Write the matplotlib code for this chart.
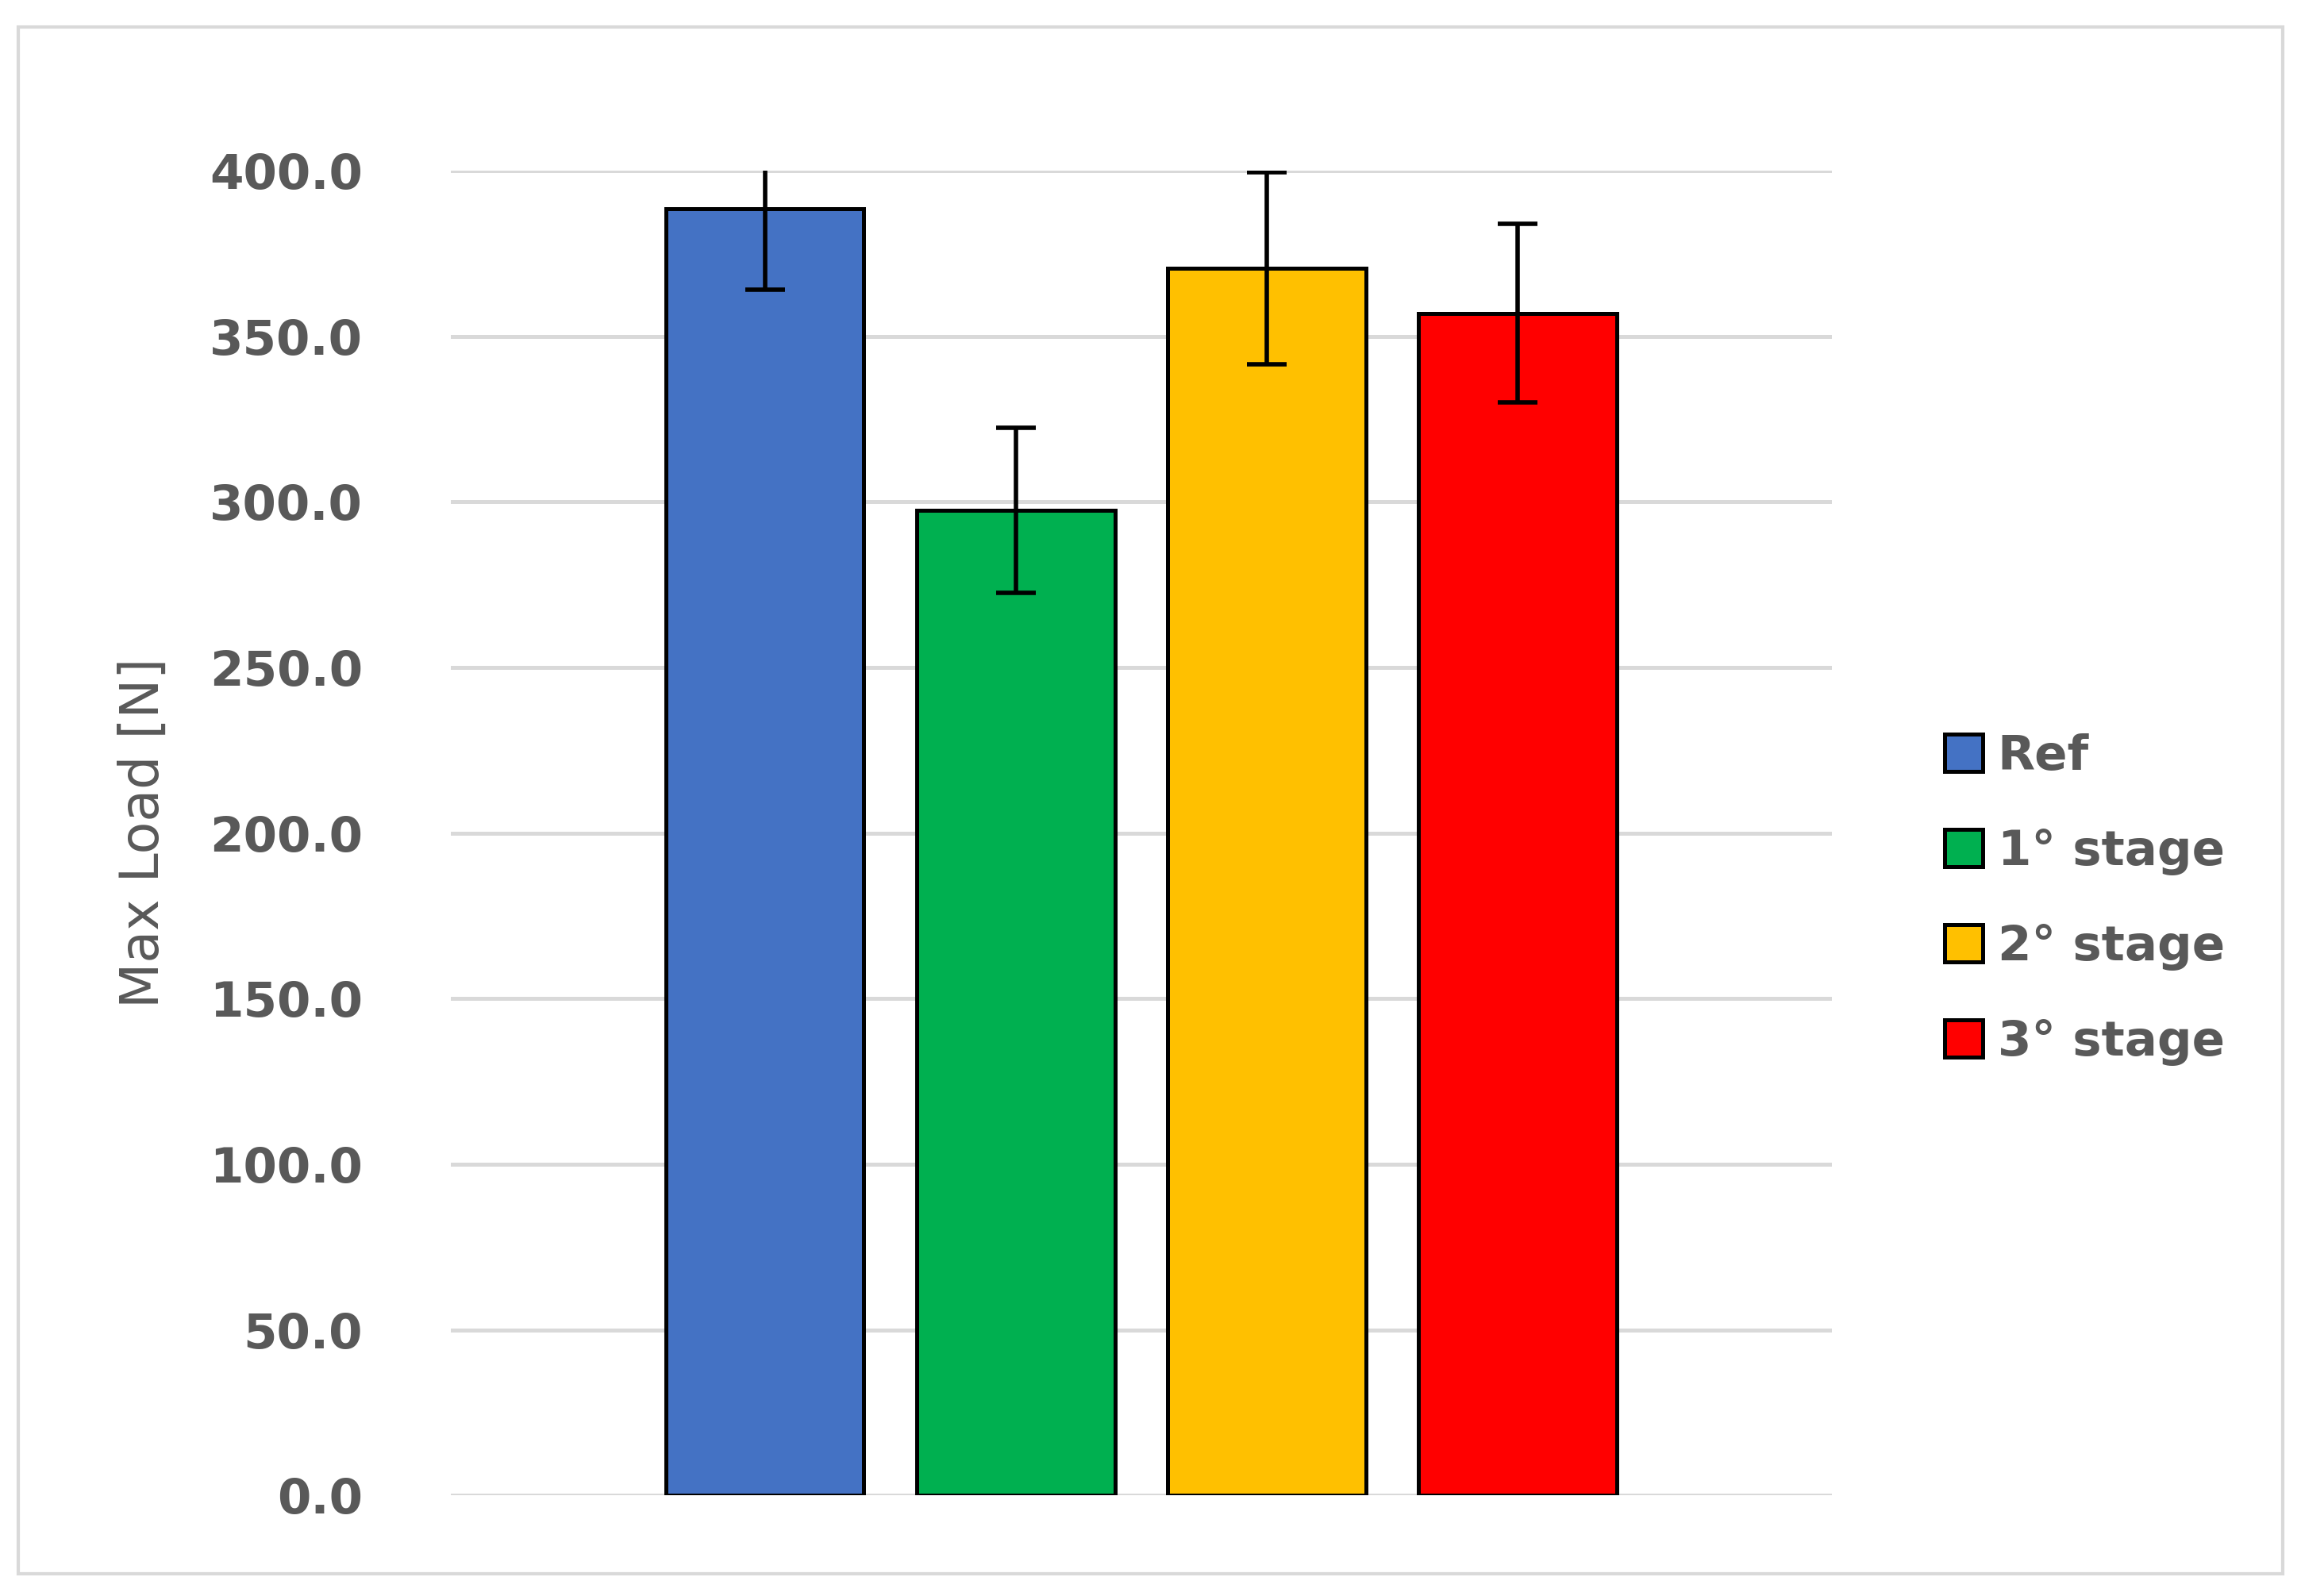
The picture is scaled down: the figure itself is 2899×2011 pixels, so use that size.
import numpy as np
import matplotlib.pyplot as plt
from matplotlib.patches import Rectangle

# data
labels = ['Ref', '1° stage', '2° stage', '3° stage']
values = [388.5, 297.5, 370.5, 357.0]
errors = [24.5, 25.0, 29.0, 27.0]
colors = ['#4472C4', '#00B050', '#FFC000', '#FF0000']
yticks = [0, 50, 100, 150, 200, 250, 300, 350, 400]

fig = plt.figure(figsize=(14.495, 10.055), dpi=200, facecolor='white')
fig.patches.append(Rectangle((0.008, 0.014), 0.984, 0.969, transform=fig.transFigure,
                             fill=False, edgecolor='#D9D9D9', linewidth=1.5))
ax = fig.add_axes([0.196, 0.063, 0.600, 0.830])

x = np.arange(len(labels))
for i in range(len(labels)):
    ax.bar(x[i], values[i], width=0.79, color=colors[i], edgecolor='black',
           linewidth=1.8, label=labels[i], zorder=3)
ax.errorbar(x, values, yerr=errors, fmt='none', ecolor='black', elinewidth=2,
            capsize=9, capthick=2, zorder=4)

ax.set_xlim(-1.25, 4.25)
ax.set_ylim(0, 400)
ax.set_yticks(yticks)
ax.set_yticklabels([f'{v:.1f}' for v in yticks], fontsize=22, fontweight='bold', color='#595959')
ax.set_xticks([])
ax.grid(axis='y', color='#D9D9D9', linewidth=1.8, zorder=0)
ax.tick_params(axis='y', length=0, pad=40)
for s in ax.spines.values():
    s.set_visible(False)
ax.set_ylabel('Max Load [N]', fontsize=24, color='#595959', labelpad=18)

ax.legend(loc='center left', bbox_to_anchor=(1.05, 0.45), frameon=False,
          prop={'size': 22, 'weight': 'bold'}, labelcolor='#595959',
          handlelength=0.8, handleheight=0.8, labelspacing=1.0, handletextpad=0.3)

plt.savefig('out.png', dpi=200, facecolor='white')
